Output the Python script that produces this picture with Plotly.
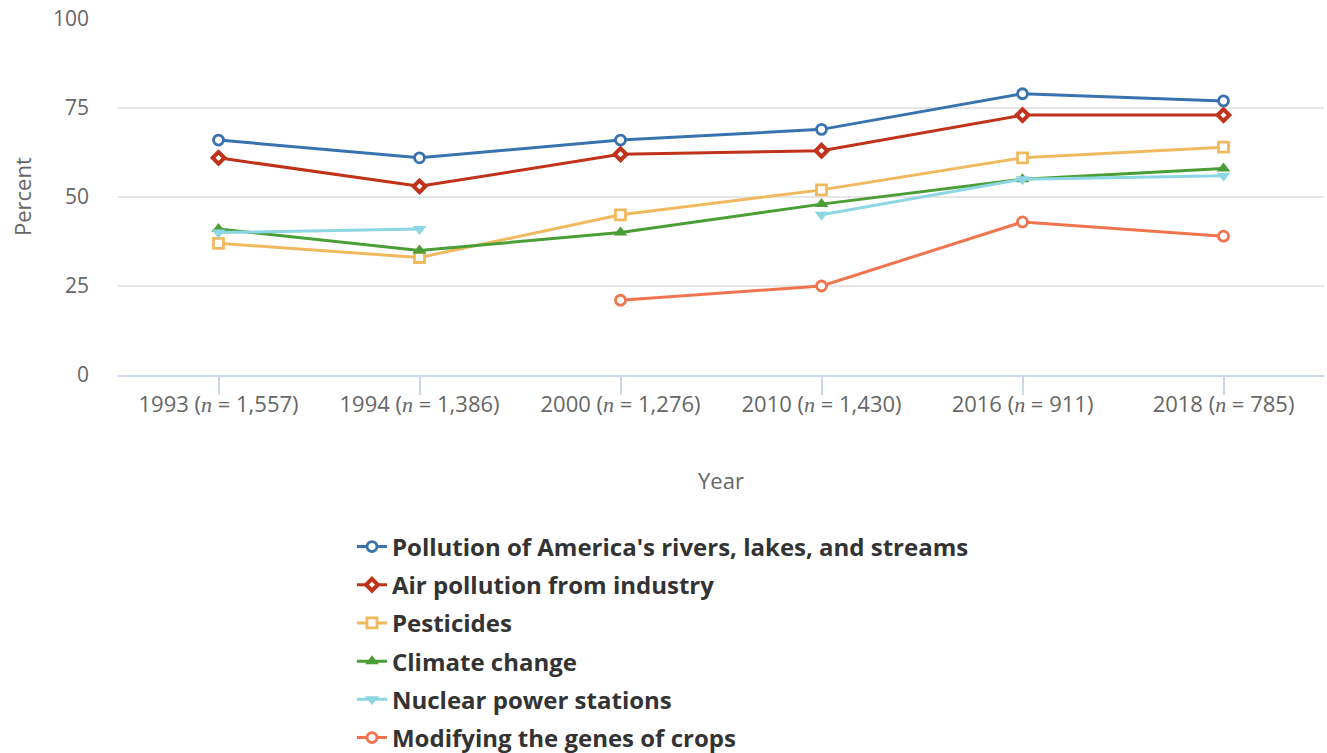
import plotly.graph_objects as go

categories = ["1993 (<i>n</i> = 1,557)", "1994 (<i>n</i> = 1,386)", "2000 (<i>n</i> = 1,276)",
              "2010 (<i>n</i> = 1,430)", "2016 (<i>n</i> = 911)", "2018 (<i>n</i> = 785)"]
rivers = [66, 61, 66, 69, 79, 77]
air = [61, 53, 62, 63, 73, 73]
pesticides = [37, 33, 45, 52, 61, 64]
climate = [41, 35, 40, 48, 55, 58]
nuclear = [40, 41, None, 45, 55, 56]
gmo = [None, None, 21, 25, 43, 39]

names = ["Pollution of America's rivers, lakes, and streams", "Air pollution from industry",
         "Pesticides", "Climate change", "Nuclear power stations", "Modifying the genes of crops"]
colors = ["#3873af", "#c0321a", "#f0b95e", "#4a9e35", "#8dd6e3", "#f0744e"]
series = [rivers, air, pesticides, climate, nuclear, gmo]
symbols = ["circle", "diamond", "square", "triangle-up", "triangle-down", "circle"]
fills = ["white", "white", "white", None, None, "white"]
sizes = [10, 9, 10, 12, 12, 10]
lws = [2.8, 4, 2.8, 0, 0, 2.8]

ticktext = [c.replace("<i>n</i>", "<span style='font-family:Liberation Serif;font-style:italic'>n</span>") for c in categories]

fig = go.Figure()
for i, (name, col, ys, sym, fill, sz, lw) in enumerate(zip(names, colors, series, symbols, fills, sizes, lws)):
    fig.add_trace(go.Scatter(
        x=list(range(len(categories))), y=ys, name="<b>" + name + "</b>", mode="lines+markers",
        connectgaps=False, legendgroup="g%d" % i,
        line=dict(color=col, width=3),
        marker=dict(symbol=sym, size=sz, color=fill if fill else col,
                    line=dict(color=col, width=lw)),
    ))

fig.update_layout(
    width=1327, height=753,
    margin=dict(l=118, r=3, t=19, b=378),
    paper_bgcolor="white", plot_bgcolor="white",
    font=dict(family="Open Sans", color="#666666", size=21),
    showlegend=True,
    legend=dict(orientation="v", x=0.194, xanchor="left", yref="container", y=0.3035, yanchor="top",
                font=dict(size=24, color="#333333", family="Open Sans"),
                tracegroupgap=4),
    xaxis=dict(range=[-0.5, 5.5], tickmode="array", tickvals=list(range(len(categories))),
               ticktext=ticktext, showgrid=False, showline=True, linecolor="#ccd6eb", linewidth=1.5,
               ticks="outside", ticklen=18, tickcolor="#ccd6eb", tickwidth=1.5,
               tickfont=dict(size=22, color="#666666"), ticklabelstandoff=-9,
               zeroline=False),
    yaxis=dict(range=[0, 100], tickvals=[0, 25, 50, 75, 100], showgrid=True, gridcolor="#e6e6e6",
               gridwidth=1.5, zeroline=False, showline=False,
               tickfont=dict(size=21, color="#666666"), ticks="", ticklabelstandoff=28),
    annotations=[
        dict(text="Percent", xref="paper", yref="paper", x=-0.0796, y=0.5, textangle=-90,
             showarrow=False, font=dict(size=22, color="#666666"), xanchor="center", yanchor="middle"),
        dict(text="Year", xref="paper", yref="paper", x=0.5, y=-0.295,
             showarrow=False, font=dict(size=22, color="#666666"), xanchor="center", yanchor="middle"),
    ],
)
fig.write_html("out.html", config={"displayModeBar": False},
               post_script="document.body.style.margin='0px';document.body.style.overflow='hidden';")
